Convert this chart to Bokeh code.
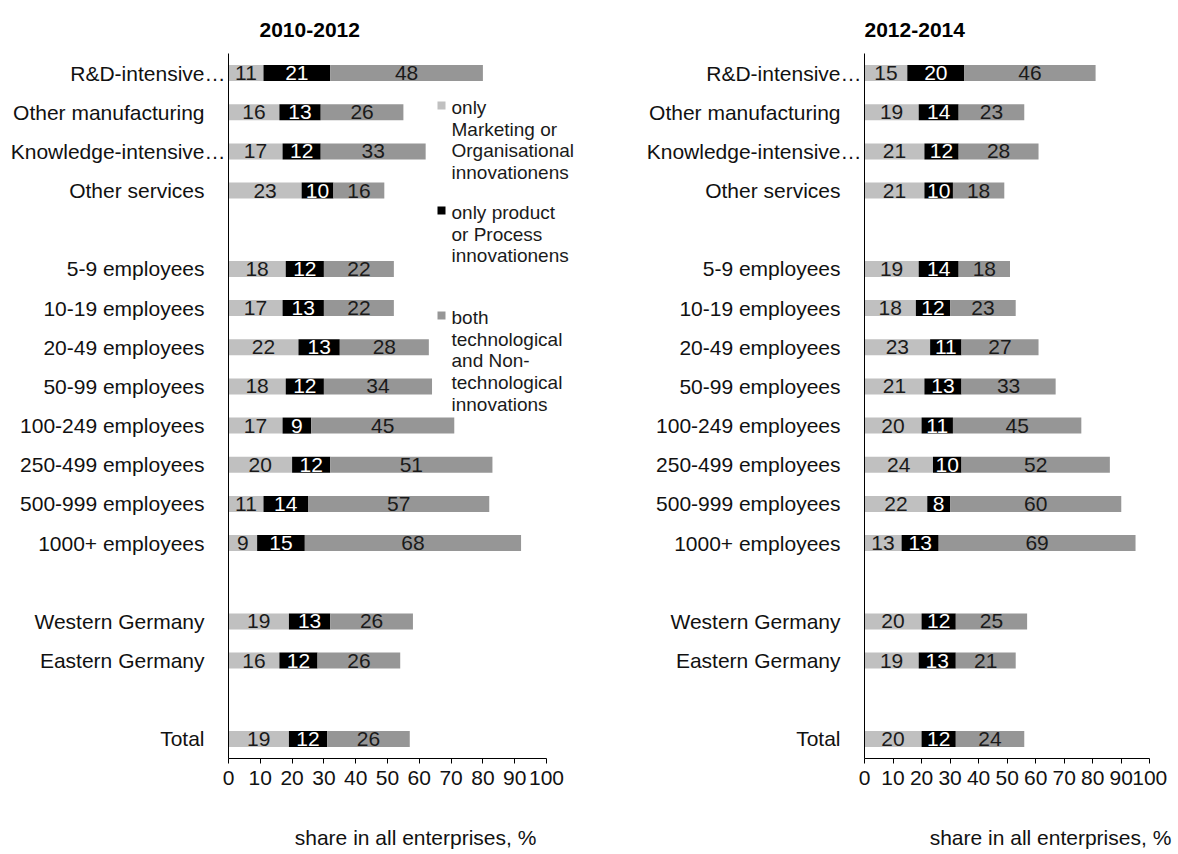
from bokeh.plotting import figure
from bokeh.layouts import row
from bokeh.models import FactorRange, Range1d, FixedTicker, Label, BoxAnnotation, ColumnDataSource
from bokeh.embed import file_html
from bokeh.resources import INLINE
from bokeh.core.properties import value
import numpy as np

# ---------------- data ----------------
sectors = ["R&D-intensive…", "Other manufacturing", "Knowledge-intensive…", "Other services"]
sizes = ["5-9 employees", "10-19 employees", "20-49 employees", "50-99 employees",
         "100-249 employees", "250-499 employees", "500-999 employees", "1000+ employees"]
regions = ["Western Germany", "Eastern Germany"]
totals = ["Total"]

series_names = [
    ["only", "Marketing or", "Organisational", "innovationens"],
    ["only product", "or  Process", "innovationens"],
    ["both", "technological", "and Non-", "technological", "innovations"],
]

marketing_2010 = [11, 16, 17, 23, 18, 17, 22, 18, 17, 20, 11, 9, 19, 16, 19]
product_2010 = [21, 13, 12, 10, 12, 13, 13, 12, 9, 12, 14, 15, 13, 12, 12]
both_2010 = [48, 26, 33, 16, 22, 22, 28, 34, 45, 51, 57, 68, 26, 26, 26]

marketing_2012 = [15, 19, 21, 21, 19, 18, 23, 21, 20, 24, 22, 13, 20, 19, 20]
product_2012 = [20, 14, 12, 10, 14, 12, 11, 13, 11, 10, 8, 13, 12, 13, 12]
both_2012 = [46, 23, 28, 18, 18, 23, 27, 33, 45, 52, 60, 69, 25, 21, 24]

x_ticks = [0, 10, 20, 30, 40, 50, 60, 70, 80, 90, 100]

# ---------------- styling ----------------
FONT = "Liberation Sans"
colors = ["#c0c0c0", "#000000", "#969696"]
text_colors = ["#1a1a1a", "#ffffff", "#1a1a1a"]


def shown(c):
    # full labels keep an em-wide trailing gap, truncated ones run up to the axis
    return c if c.endswith("…") else c + "\u2003"


groups = [("a", sectors), ("b", sizes), ("c", regions), ("d", totals)]
rows_top_down = [(g, shown(c)) for g, cats in groups for c in cats]
factors = list(reversed(rows_top_down))

FRAME_H = 705


def make_panel(title, series, width, border_left, border_right, x_end, title_offset,
               xlabel):
    p = figure(width=width, height=854,
               y_range=FactorRange(*factors, group_padding=1.0, range_padding=0),
               x_range=Range1d(0, x_end),
               output_backend="svg", toolbar_location=None,
               min_border_left=border_left, min_border_right=border_right,
               min_border_top=53, min_border_bottom=96)
    p.outline_line_color = None
    p.grid.visible = False
    p.background_fill_color = "white"
    p.border_fill_color = "white"

    p.title.text = title
    p.title.text_font = FONT
    p.title.text_font_size = "21px"
    p.title.text_font_style = "bold"
    p.title.text_color = "#000000"
    p.title.align = "left"
    p.title.offset = title_offset
    p.title.standoff = 33

    left = np.zeros(len(rows_top_down))
    for vals, col, tcol in zip(series, colors, text_colors):
        vals = np.array(vals, dtype=float)
        src = ColumnDataSource(dict(
            y=rows_top_down, left=left, right=left + vals, mid=left + vals / 2,
            txt=[str(int(v)) for v in vals]))
        p.hbar(y="y", left="left", right="right", height=0.41, fill_color=col,
               line_color=None, source=src)
        p.text(x="mid", y="y", text="txt", source=src, text_align="center",
               text_baseline="middle", text_font_size="21px", text_color=tcol,
               text_font=value(FONT))
        left = left + vals

    xa = p.xaxis[0]
    xa.ticker = FixedTicker(ticks=x_ticks)
    xa.bounds = (0, 100)
    xa.minor_tick_line_color = None
    xa.major_tick_in = 0
    xa.major_tick_out = 5
    xa.axis_line_color = "#000000"
    xa.major_tick_line_color = "#000000"
    xa.major_label_text_font = FONT
    xa.major_label_text_font_size = "21px"
    xa.major_label_text_color = "#111111"
    xa.major_label_standoff = 7
    xa.axis_label = xlabel
    xa.axis_label_text_font = FONT
    xa.axis_label_text_font_size = "21px"
    xa.axis_label_text_font_style = "normal"
    xa.axis_label_text_color = "#111111"
    xa.axis_label_standoff = 38

    ya = p.yaxis[0]
    ya.axis_line_color = "#000000"
    ya.major_tick_in = 0
    ya.major_tick_out = 0
    ya.minor_tick_line_color = None
    ya.major_label_text_font = FONT
    ya.major_label_text_font_size = "21px"
    ya.major_label_text_color = "#111111"
    ya.major_label_standoff = 3
    ya.group_text_font_size = "0px"
    ya.group_text_color = None
    ya.separator_line_color = None
    return p


p1 = make_panel("2010-2012", [marketing_2010, product_2010, both_2010],
                width=620, border_left=228, border_right=12, x_end=380 / 3.18,
                title_offset=31, xlabel="share in all  enterprises, %")
# the caption of the right panel sits right of the frame's centre: pad it on the left
p2 = make_panel("2012-2014", [marketing_2012, product_2012, both_2012],
                width=558, border_left=244, border_right=12, x_end=302 / 2.853,
                title_offset=0, xlabel="\u00a0" * 12 + "share in all enterprises, %")

# legend (inside the left panel), screen units relative to the frame
frame_bottom = 53 + FRAME_H
first_line_y = [107, 212, 317]
line_h = 21.7
for names, col, y0 in zip(series_names, colors, first_line_y):
    sy = frame_bottom - y0
    p1.add_layout(BoxAnnotation(left=209, right=217, bottom=sy - 2, top=sy + 6,
                                left_units="screen", right_units="screen",
                                bottom_units="screen", top_units="screen",
                                fill_color=col, fill_alpha=1, line_color=None))
    for i, line in enumerate(names):
        p1.add_layout(Label(x=223, y=sy - i * line_h, x_units="screen", y_units="screen",
                            text=line, text_font=FONT, text_font_size="19px",
                            text_baseline="middle", text_color="#1a1a1a"))

layout = row(p1, p2)
open("out.html", "w").write(file_html(layout, INLINE))
